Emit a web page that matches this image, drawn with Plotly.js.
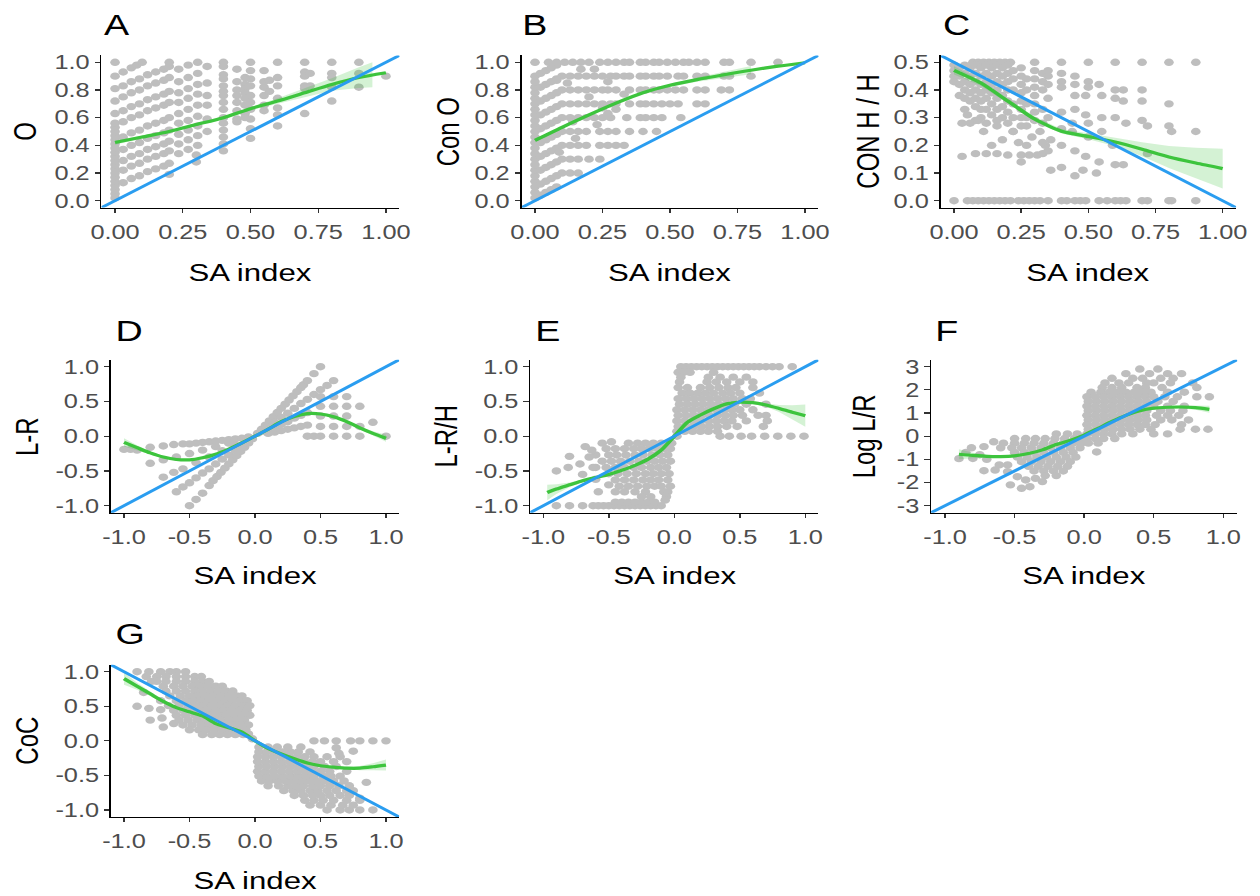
<!DOCTYPE html>
<html>
<head>
<meta charset="utf-8">
<script src="https://cdn.plot.ly/plotly-3.0.1.min.js"></script>
<style>
html,body{margin:0;padding:0;background:#ffffff;overflow:hidden;}
#wrap{width:1260px;height:896px;overflow:hidden;position:relative;}
#plot{width:970px;height:896px;transform-origin:0 0;}
</style>
</head>
<body>
<div id="wrap"><div id="plot"></div></div>
<script>
// ---------------- text ----------------
const panelLetters = ['A','B','C','D','E','F','G'];
const yTitles = ['O','Con O','CON H / H','L-R','L-R/H','Log L/R','CoC'];
const xTitle = 'SA index';

// ---------------- ticks ----------------
const tickVals01 = [0,0.25,0.5,0.75,1];
const tickText01 = ['0.00','0.25','0.50','0.75','1.00'];
const tickValsY01 = [0,0.2,0.4,0.6,0.8,1];
const tickTextY01 = ['0.0','0.2','0.4','0.6','0.8','1.0'];
const tickValsC = [0,0.1,0.2,0.3,0.4,0.5];
const tickTextC = ['0.0','0.1','0.2','0.3','0.4','0.5'];
const tickValsPM = [-1,-0.5,0,0.5,1];
const tickTextPM = ['-1.0','-0.5','0.0','0.5','1.0'];
const tickValsF = [-3,-2,-1,0,1,2,3];
const tickTextF = ['-3','-2','-1','0','1','2','3'];

// ---------------- reference (blue) lines: y = slope*x + intercept ----------------
const refSlope = [1,1,-0.5,1,1,3,-1];
const refIntercept = [0,0,0.5,0,0,0,0];

// ---------------- smooth fits (green) ----------------
const fitAX = [0,0.1,0.2,0.3,0.4,0.5,0.6,0.7,0.8,0.9,1.0];
const fitAY = [0.42,0.46,0.5,0.55,0.6,0.665,0.72,0.78,0.84,0.89,0.925];
const bandAX = [0,0.1,0.2,0.3,0.4,0.5,0.6,0.7,0.8,0.9,0.95];
const bandALo = [0.405,0.45,0.49,0.54,0.59,0.653,0.70,0.75,0.795,0.815,0.82];
const bandAHi = [0.435,0.47,0.51,0.56,0.61,0.677,0.74,0.81,0.885,0.965,1.0];

const fitBX = [0,0.1,0.2,0.3,0.4,0.5,0.6,0.7,0.8,0.9,1.0];
const fitBY = [0.436,0.53,0.62,0.705,0.78,0.834,0.875,0.91,0.943,0.972,0.997];
const bandBX = [0,0.1,0.2,0.3,0.4,0.5,0.6,0.7,0.8];
const bandBLo = [0.424,0.522,0.612,0.697,0.772,0.824,0.86,0.888,0.913];
const bandBHi = [0.448,0.538,0.628,0.713,0.788,0.844,0.89,0.932,0.973];

const fitCX = [0,0.1,0.2,0.3,0.4,0.5,0.6,0.7,0.8,0.9,1.0];
const fitCY = [0.471,0.425,0.36,0.295,0.251,0.232,0.212,0.186,0.158,0.136,0.116];
const bandCX = [0,0.1,0.2,0.3,0.4,0.5,0.6,0.7,0.8,0.9,1.0];
const bandCLo = [0.456,0.415,0.352,0.287,0.243,0.222,0.197,0.161,0.118,0.081,0.044];
const bandCHi = [0.486,0.435,0.368,0.303,0.259,0.242,0.227,0.211,0.198,0.191,0.188];

const fitDX = [-1,-0.9,-0.8,-0.7,-0.6,-0.5,-0.4,-0.3,-0.2,-0.1,0,0.1,0.2,0.3,0.4,0.5,0.6,0.7,0.8,0.9,1.0];
const fitDY = [-0.09,-0.165,-0.24,-0.3,-0.335,-0.34,-0.31,-0.26,-0.185,-0.095,0,0.1,0.21,0.285,0.325,0.32,0.28,0.21,0.12,0.04,-0.03];
const bandDLo = [-0.15,-0.2,-0.26,-0.315,-0.347,-0.352,-0.322,-0.272,-0.197,-0.107,-0.012,0.088,0.198,0.273,0.313,0.308,0.268,0.195,0.1,0.01,-0.08];
const bandDHi = [-0.03,-0.13,-0.22,-0.285,-0.323,-0.328,-0.298,-0.248,-0.173,-0.083,0.012,0.112,0.222,0.297,0.337,0.332,0.292,0.225,0.14,0.07,0.02];

const fitEX = [-0.97,-0.9,-0.8,-0.7,-0.6,-0.5,-0.4,-0.3,-0.2,-0.1,0,0.1,0.2,0.3,0.4,0.5,0.6,0.7,0.8,0.9,1.0];
const fitEY = [-0.81,-0.76,-0.7,-0.64,-0.595,-0.55,-0.49,-0.42,-0.33,-0.2,0,0.2,0.305,0.395,0.465,0.49,0.482,0.45,0.4,0.345,0.295];
const bandELo = [-0.92,-0.83,-0.735,-0.66,-0.61,-0.565,-0.505,-0.435,-0.345,-0.215,-0.015,0.185,0.29,0.38,0.45,0.475,0.464,0.425,0.35,0.245,0.135];
const bandEHi = [-0.7,-0.69,-0.665,-0.62,-0.58,-0.535,-0.475,-0.405,-0.315,-0.185,0.015,0.215,0.32,0.41,0.48,0.505,0.5,0.475,0.45,0.445,0.455];

const fitFX = [-0.9,-0.8,-0.7,-0.6,-0.5,-0.4,-0.3,-0.2,-0.1,0,0.1,0.2,0.3,0.4,0.5,0.6,0.7,0.8,0.9];
const fitFY = [-0.78,-0.83,-0.87,-0.88,-0.85,-0.75,-0.59,-0.36,-0.18,0.05,0.34,0.64,0.9,1.1,1.21,1.25,1.26,1.23,1.16];
const bandFLo = [-1.0,-0.95,-0.94,-0.93,-0.9,-0.8,-0.64,-0.41,-0.23,0.0,0.29,0.59,0.85,1.05,1.16,1.2,1.2,1.14,1.01];
const bandFHi = [-0.56,-0.71,-0.8,-0.83,-0.8,-0.7,-0.54,-0.31,-0.13,0.1,0.39,0.69,0.95,1.15,1.26,1.3,1.32,1.32,1.31];

const fitGX = [-1,-0.9,-0.8,-0.7,-0.6,-0.5,-0.4,-0.3,-0.2,-0.1,0,0.1,0.2,0.3,0.4,0.5,0.6,0.7,0.8,0.9,1.0];
const fitGY = [0.9,0.79,0.68,0.57,0.48,0.42,0.36,0.25,0.19,0.125,0,-0.11,-0.19,-0.26,-0.32,-0.36,-0.38,-0.395,-0.395,-0.375,-0.35];
const bandGLo = [0.81,0.74,0.65,0.55,0.465,0.405,0.345,0.235,0.175,0.11,-0.015,-0.125,-0.205,-0.275,-0.335,-0.375,-0.395,-0.415,-0.425,-0.425,-0.43];
const bandGHi = [0.99,0.84,0.71,0.59,0.495,0.435,0.375,0.265,0.205,0.14,0.015,-0.095,-0.175,-0.245,-0.305,-0.345,-0.365,-0.375,-0.365,-0.325,-0.27];

// ---------------- points (groups of [x values],[y values]; a single value is shared) ----------------
const aStreakX = [0.03,0.06,0.09,0.12,0.15,0.18,0.2];
const aStreak2X = [0.235,0.27,0.305];
const ptsA = [
  [[0],[0.02,0.05,0.08,0.11,0.14,0.17,0.2,0.23,0.26,0.29,0.32,0.35,0.38,0.41,0.44,0.47,0.5,0.53,0.56,0.63,0.72,0.81,0.9,1.0]],
  [[0.03,0.06,0.08,0.1],[0.93,0.96,0.98,1.0]],
  [aStreakX,[0.83,0.86,0.88,0.91,0.93,0.95,0.97]],
  [aStreakX,[0.75,0.78,0.8,0.83,0.85,0.87,0.89]],
  [aStreakX,[0.65,0.68,0.7,0.73,0.75,0.77,0.79]],
  [aStreakX,[0.57,0.6,0.62,0.65,0.67,0.69,0.71]],
  [aStreakX,[0.46,0.49,0.51,0.54,0.56,0.58,0.6]],
  [aStreakX,[0.37,0.4,0.42,0.45,0.47,0.49,0.51]],
  [aStreakX,[0.29,0.32,0.34,0.37,0.39,0.41,0.43]],
  [aStreakX,[0.22,0.25,0.27,0.3,0.32,0.34,0.36]],
  [aStreakX,[0.13,0.16,0.18,0.21,0.23,0.25,0.27]],
  [[0.2],[1.0,0.19]],
  [aStreak2X,[0.95,0.98,1.0]],
  [aStreak2X,[0.86,0.89,0.92]],
  [aStreak2X,[0.78,0.81,0.84]],
  [aStreak2X,[0.71,0.74,0.77]],
  [aStreak2X,[0.63,0.66,0.69]],
  [aStreak2X,[0.56,0.58,0.61]],
  [aStreak2X,[0.48,0.51,0.54]],
  [aStreak2X,[0.41,0.44,0.47]],
  [aStreak2X,[0.34,0.37,0.4]],
  [[0.3],[0.28,0.33]],
  [[0.34],[0.97,0.85,0.76,0.69,0.59,0.5]],
  [[0.4],[1.0,0.97,0.91,0.88,0.83,0.79,0.76,0.71,0.66,0.6,0.56,0.51,0.46,0.41,0.36]],
  [[0.45],[0.95,0.86,0.8,0.76,0.71,0.65,0.59,0.57]],
  [[0.48],[0.89,0.84,0.81,0.78,0.74,0.69,0.63,0.6]],
  [[0.5],[1.0,0.94,0.88,0.83,0.76,0.71,0.66,0.59,0.52,0.45]],
  [[0.55],[0.94,0.86,0.82,0.76,0.69,0.65]],
  [[0.57],[0.87,0.79]],
  [[0.6],[1.0,0.89,0.83,0.74,0.67,0.62,0.54]],
  [[0.7],[1.0,0.93,0.9,0.83,0.81,0.63]],
  [[0.72],[0.92,0.83]],
  [[0.8],[1.0,0.92,0.89,0.82,0.72]],
  [[0.9],[1.0,0.92,0.82]],
  [[1.0],[0.9]]
];

const bDiagX = [0.02,0.04,0.06,0.08];
const ptsB = [
  [[0],[0.02,0.06,0.1,0.14,0.18,0.22,0.26,0.3,0.34,0.38,0.42,0.46,0.5,0.54,0.58,0.62,0.66,0.7,0.74,0.78,0.82,0.86,0.9,1.0]],
  [bDiagX,[0.92,0.94,0.96,0.98]],
  [bDiagX,[0.82,0.84,0.86,0.88]],
  [bDiagX,[0.72,0.74,0.76,0.78]],
  [bDiagX,[0.62,0.64,0.66,0.68]],
  [bDiagX,[0.52,0.54,0.56,0.58]],
  [bDiagX,[0.42,0.44,0.46,0.48]],
  [bDiagX,[0.32,0.34,0.36,0.38]],
  [bDiagX,[0.22,0.24,0.26,0.28]],
  [bDiagX,[0.12,0.14,0.16,0.18]],
  [bDiagX,[0.04,0.06,0.08,0.1]],
  [[0.05,0.08,0.11,0.14,0.17,0.2,0.24,0.27,0.3,0.33,0.35,0.39,0.41,0.44,0.46,0.49,0.52,0.55,0.57,0.6,0.63,0.7,0.72,0.8,0.9],[1.0]],
  [[0.1,0.13,0.16,0.19,0.22,0.25,0.28,0.3,0.33,0.35,0.39,0.41,0.44,0.46,0.49,0.53,0.55,0.6,0.63,0.7,0.72,0.8],[0.9]],
  [[0.1,0.13,0.16,0.19,0.22,0.25,0.27,0.3,0.35,0.39,0.41,0.44,0.46,0.49,0.52,0.55,0.6,0.63,0.69,0.72],[0.8]],
  [[0.1,0.13,0.16,0.19,0.22,0.25,0.28,0.3,0.35,0.39,0.41,0.44,0.47,0.5,0.53,0.6,0.63],[0.7]],
  [[0.1,0.13,0.16,0.19,0.22,0.25,0.28,0.34,0.39,0.41,0.44,0.47,0.54],[0.6]],
  [[0.1,0.13,0.16,0.19,0.24,0.27,0.3,0.35,0.4,0.45],[0.5]],
  [[0.1,0.13,0.16,0.19,0.24,0.27,0.3,0.33],[0.4]],
  [[0.1,0.13,0.16,0.2,0.24],[0.3]],
  [[0.1,0.13,0.16],[0.2]],
  [[0.22,0.27,0.33,0.2,0.25,0.14,0.08,0.12,0.17,0.27,0.3,0.23,0.15,0.09],
   [0.95,0.86,0.77,0.75,0.67,0.57,0.87,0.85,0.95,0.63,0.66,0.55,0.45,0.35]]
];

const ptsC = [
  [[0,0.05,0.07,0.09,0.11,0.13,0.15,0.17,0.19,0.21,0.24,0.26,0.28,0.3,0.32,0.35,0.4,0.42,0.45,0.47,0.49,0.54,0.57,0.6,0.62,0.64,0.7,0.72,0.8,0.81,0.9],[0]],
  [[0.07,0.09,0.11,0.13,0.15,0.17,0.19,0.21,0.3,0.4,0.5,0.6,0.7,0.8,0.9],[0.5]],
  [[0],[0.49,0.47,0.45,0.43]],
  [[0.02],[0.48,0.45,0.42,0.38]],
  [[0.04],[0.49,0.46,0.43,0.4,0.37,0.33]],
  [[0.06],[0.48,0.45,0.42,0.39,0.36]],
  [[0.08],[0.49,0.46,0.43,0.4,0.37,0.34,0.29]],
  [[0.1],[0.48,0.45,0.42,0.39,0.36,0.33,0.3]],
  [[0.12],[0.49,0.46,0.43,0.4,0.37,0.33,0.28]],
  [[0.14],[0.48,0.45,0.42,0.39,0.35,0.31]],
  [[0.16],[0.49,0.46,0.43,0.4,0.37,0.33,0.29]],
  [[0.18],[0.48,0.45,0.42,0.38,0.34,0.3]],
  [[0.2],[0.49,0.46,0.43,0.4,0.36,0.32,0.28]],
  [[0.22],[0.47,0.44,0.4,0.35,0.3,0.25]],
  [[0.25],[0.48,0.45,0.42,0.39,0.36,0.33,0.3,0.27]],
  [[0.27],[0.44,0.4,0.35,0.3,0.27]],
  [[0.3],[0.47,0.44,0.41,0.38,0.35,0.32,0.29]],
  [[0.03,0.08,0.12,0.16,0.2,0.25,0.28,0.31,0.33,0.03,0.06,0.09,0.14,0.18,0.22,0.25,0.27,0.24,0.29,0.32,0.34,0.16,0.11,0.05],
   [0.16,0.17,0.17,0.17,0.165,0.165,0.165,0.165,0.17,0.28,0.28,0.29,0.2,0.22,0.25,0.14,0.2,0.21,0.23,0.25,0.2,0.27,0.25,0.31]],
  [[0.33],[0.46,0.43,0.4,0.33,0.28,0.21]],
  [[0.35],[0.47,0.45,0.42,0.37,0.3,0.18]],
  [[0.36],[0.22,0.11]],
  [[0.4],[0.46,0.43,0.41,0.32,0.26,0.2,0.12]],
  [[0.45],[0.45,0.42,0.38,0.33,0.18,0.09]],
  [[0.44],[0.28,0.25]],
  [[0.5],[0.43,0.41,0.28,0.23]],
  [[0.49],[0.38,0.31,0.16]],
  [[0.48],[0.11]],
  [[0.55],[0.38,0.3,0.25]],
  [[0.54],[0.42,0.14]],
  [[0.53],[0.1]],
  [[0.6],[0.4,0.37,0.3,0.13]],
  [[0.59],[0.2]],
  [[0.63],[0.4,0.36,0.13]],
  [[0.64],[0.28]],
  [[0.7],[0.4,0.36,0.29]],
  [[0.72],[0.27,0.17]],
  [[0.8],[0.35,0.27]],
  [[0.81],[0.25]],
  [[0.9],[0.25]]
];

const ptsD = [
  [[-1.0,-0.95,-0.9,-0.8,-0.7,-0.62,-0.55,-0.5,-0.45,-0.4,-0.35,-0.3,-0.25,-0.2,-0.15,-0.1,-0.05],
   [-0.19,-0.19,-0.2,-0.16,-0.14,-0.12,-0.11,-0.11,-0.1,-0.09,-0.08,-0.07,-0.06,-0.05,-0.04,-0.03,-0.01]],
  [[-0.8,-0.7,-0.6,-0.5,-0.4,-0.3,-0.2],[-0.39,-0.34,-0.3,-0.25,-0.2,-0.15,-0.1]],
  [[-0.7,-0.62,-0.55,-0.45,-0.35,-0.25,-0.15],[-0.59,-0.52,-0.47,-0.38,-0.3,-0.21,-0.13]],
  [[-0.6,-0.55,-0.5,-0.45,-0.4,-0.35,-0.3,-0.25,-0.2,-0.15,-0.1],[-0.8,-0.73,-0.67,-0.6,-0.53,-0.47,-0.4,-0.33,-0.27,-0.2,-0.13]],
  [[-0.5,-0.45,-0.4,-0.35,-0.32,-0.29,-0.26,-0.23,-0.2,-0.17,-0.14,-0.11,-0.08,-0.05,-0.02],
   [-1.0,-0.91,-0.82,-0.71,-0.64,-0.58,-0.52,-0.46,-0.4,-0.34,-0.28,-0.22,-0.16,-0.1,-0.04]],
  [[0.02,0.05,0.08,0.11,0.14,0.17,0.2,0.23,0.26,0.29,0.32,0.35,0.37,0.4,0.45,0.5],
   [0.04,0.1,0.16,0.22,0.28,0.34,0.4,0.46,0.52,0.58,0.64,0.7,0.74,0.8,0.9,1.0]],
  [[0.05,0.1,0.15,0.2,0.25,0.3,0.35,0.4,0.45,0.5,0.55,0.6],[0.07,0.13,0.2,0.27,0.33,0.4,0.47,0.53,0.6,0.67,0.73,0.8]],
  [[0.1,0.15,0.2,0.25,0.3,0.35,0.4],[0.09,0.13,0.17,0.21,0.26,0.3,0.34]],
  [[0.1,0.15,0.2,0.25,0.3,0.35,0.4],[0.04,0.06,0.08,0.1,0.12,0.14,0.16]],
  [[0.4,0.45,0.5,0.6,0.7,0.8,1.0],[0]],
  [[0.5,0.6,0.7,0.8],[0.14]],
  [[0.9],[0.2]],
  [[0.5,0.6,0.7],[0.29]],
  [[0.5,0.6,0.7,0.8],[0.43]],
  [[0.5,0.6,0.7],[0.57]]
];

const ptsE = [
  [[-0.9,-0.8,-0.7,-0.62,-0.58,-0.54,-0.5,-0.46,-0.42,-0.38,-0.34,-0.3,-0.26,-0.22,-0.18,-0.14,-0.1],[-1.0]],
  [[-0.45,-0.4,-0.35,-0.3,-0.25,-0.2,-0.15],[-0.95]],
  [[-0.35,-0.28,-0.22,-0.16,-0.1,-0.05,-0.02],[-0.1]],
  [[-0.52,-0.45,-0.38,-0.31,-0.25,-0.19,-0.13,-0.07,-0.03],[-0.18]],
  [[-0.6,-0.5,-0.44,-0.37,-0.3,-0.24,-0.17,-0.11,-0.05],[-0.27]],
  [[-0.55,-0.48,-0.41,-0.34,-0.27,-0.21,-0.15,-0.09,-0.03],[-0.36]],
  [[-0.6,-0.52,-0.45,-0.38,-0.31,-0.25,-0.18,-0.12,-0.06],[-0.45]],
  [[-0.5,-0.43,-0.36,-0.29,-0.22,-0.16,-0.1,-0.04],[-0.54]],
  [[-0.45,-0.38,-0.31,-0.24,-0.18,-0.12,-0.05],[-0.63]],
  [[-0.42,-0.35,-0.28,-0.21,-0.15,-0.1,-0.03],[-0.72]],
  [[-0.45,-0.38,-0.3,-0.22,-0.08,-0.05],[-0.8]],
  [[-0.25,-0.18,-0.06],[-0.87]],
  [[-0.9,-0.8,-0.81,-0.72,-0.7,-0.65,-0.63,-0.68,-0.6,-0.58,-0.55,-0.5,-0.48,-0.62,-0.07],
   [-0.5,-0.29,-0.45,-0.4,-0.55,-0.3,-0.2,-0.15,-0.62,-0.8,-0.1,-0.7,-0.08,-0.45,-0.92]],
  [[0.05,0.09,0.13,0.17,0.21,0.25,0.29,0.33,0.37,0.41,0.45,0.49,0.53,0.57,0.61,0.65,0.7,0.75,0.8,0.9],[1.0]],
  [[0.03,0.07,0.12,0.3],[0.92]],
  [[0.05,0.26,0.35,0.45,0.55],[0.85]],
  [[0.04,0.25,0.32,0.4,0.5,0.6],[0.78]],
  [[0.03,0.1,0.2,0.27,0.34,0.41,0.47,0.6],[0.7]],
  [[0.06,0.12,0.18,0.24,0.3,0.37,0.43,0.5,0.65],[0.62]],
  [[0.03,0.09,0.15,0.21,0.27,0.33,0.39,0.45,0.52,0.58],[0.54]],
  [[0.04,0.1,0.16,0.22,0.28,0.34,0.4,0.46,0.55,0.7],[0.46]],
  [[0.02,0.08,0.14,0.2,0.26,0.32,0.38,0.44,0.5,0.6],[0.38]],
  [[0.03,0.09,0.15,0.21,0.27,0.33,0.39,0.45,0.52,0.64,0.7],[0.3]],
  [[0.02,0.08,0.14,0.2,0.26,0.32,0.38,0.44,0.55,0.71],[0.22]],
  [[0.03,0.09,0.15,0.21,0.27,0.33,0.4,0.48,0.68],[0.14]],
  [[0.02,0.08,0.14,0.2,0.26,0.33],[0.07]],
  [[0.02,0.35,0.42,0.51,0.59,0.69,0.79,0.89,0.99],[0]]
];

const ptsF = [
  [[-0.2,-0.12,-0.05],[0.1]],
  [[-0.5,-0.42,-0.35,-0.28,-0.21,-0.14,-0.07,-0.02],[-0.1]],
  [[-0.58,-0.5,-0.43,-0.36,-0.29,-0.22,-0.15,-0.08,-0.02],[-0.3]],
  [[-0.52,-0.45,-0.38,-0.31,-0.24,-0.17,-0.1,-0.03],[-0.5]],
  [[-0.5,-0.43,-0.36,-0.29,-0.22,-0.15,-0.08],[-0.7]],
  [[-0.48,-0.41,-0.34,-0.27,-0.2,-0.13,-0.06],[-0.9]],
  [[-0.45,-0.38,-0.31,-0.24,-0.17,-0.1],[-1.1]],
  [[-0.4,-0.33,-0.26,-0.19,-0.12],[-1.3]],
  [[-0.36,-0.29,-0.22,-0.15],[-1.5]],
  [[-0.28,-0.2],[-1.7]],
  [[-0.9,-0.81,-0.8,-0.72,-0.72,-0.7,-0.65,-0.64,-0.61,-0.6,-0.55,-0.55,-0.53,-0.48,-0.45,-0.42,-0.39,-0.35,-0.3,-0.75,-0.85,0.09],
   [-0.97,-0.5,-0.96,-0.45,-1.49,-1.0,-0.24,-1.46,-1.24,-0.5,-1.53,-1.24,-2.1,-1.75,-2.25,-1.89,-2.18,-1.82,-1.96,-0.8,-0.7,-0.68]],
  [[0.4,0.53],[2.9]],
  [[0.3,0.47,0.6,0.7],[2.7]],
  [[0.2,0.35,0.42,0.55,0.64],[2.5]],
  [[0.15,0.25,0.32,0.45,0.5,0.62,0.78],[2.3]],
  [[0.13,0.2,0.27,0.38,0.44,0.56,0.81],[2.1]],
  [[0.05,0.12,0.18,0.24,0.3,0.36,0.42,0.48,0.6,0.72],[1.9]],
  [[0.02,0.08,0.14,0.2,0.26,0.32,0.38,0.44,0.5,0.58,0.67,0.81,0.9],[1.7]],
  [[0.03,0.09,0.15,0.21,0.27,0.33,0.39,0.45,0.53,0.64],[1.5]],
  [[0.02,0.08,0.14,0.2,0.26,0.32,0.38,0.44,0.5,0.6,0.72],[1.3]],
  [[0.03,0.09,0.15,0.21,0.27,0.33,0.39,0.45,0.55,0.62,0.71],[1.1]],
  [[0.02,0.08,0.14,0.2,0.26,0.32,0.38,0.44,0.52,0.6,0.68],[0.9]],
  [[0.03,0.09,0.15,0.21,0.27,0.33,0.39,0.45,0.55,0.63,0.75],[0.7]],
  [[0.02,0.08,0.14,0.2,0.26,0.32,0.38,0.44,0.51,0.7],[0.5]],
  [[0.03,0.09,0.15,0.21,0.27,0.33,0.4,0.48,0.69,0.8,0.89],[0.3]],
  [[0.02,0.08,0.14,0.2,0.27,0.35,0.5,0.6],[0.1]],
  [[0.02,0.08,0.14,0.22],[-0.1]],
  [[0.03,0.1],[-0.3]]
];

const ptsG = [
  [[-0.9,-0.81,-0.72,-0.65,-0.6,-0.53],[1.0]],
  [[-0.83,-0.75,-0.68,-0.6,-0.53,-0.46,-0.41],[0.93]],
  [[-0.75,-0.68,-0.6,-0.53,-0.46,-0.4,-0.35],[0.86]],
  [[-0.7,-0.62,-0.55,-0.48,-0.42,-0.36,-0.3,-0.25],[0.79]],
  [[-0.68,-0.6,-0.53,-0.46,-0.4,-0.34,-0.28,-0.22,-0.17],[0.72]],
  [[-0.65,-0.57,-0.5,-0.44,-0.38,-0.32,-0.26,-0.2,-0.14,-0.1],[0.65]],
  [[-0.72,-0.6,-0.53,-0.47,-0.41,-0.35,-0.29,-0.23,-0.17,-0.11,-0.06],[0.58]],
  [[-0.66,-0.58,-0.51,-0.45,-0.39,-0.33,-0.27,-0.21,-0.15,-0.09,-0.04],[0.51]],
  [[-0.62,-0.55,-0.48,-0.42,-0.36,-0.3,-0.24,-0.18,-0.12,-0.06],[0.44]],
  [[-0.6,-0.53,-0.46,-0.4,-0.34,-0.28,-0.22,-0.16,-0.1,-0.04],[0.37]],
  [[-0.58,-0.51,-0.44,-0.38,-0.32,-0.26,-0.2,-0.14,-0.08],[0.3]],
  [[-0.55,-0.48,-0.41,-0.35,-0.29,-0.23,-0.17,-0.11,-0.05],[0.23]],
  [[-0.5,-0.43,-0.37,-0.31,-0.25,-0.19,-0.13,-0.07],[0.16]],
  [[-0.4,-0.33,-0.27,-0.21,-0.15,-0.09],[0.09]],
  [[-0.9,-0.81,-0.8,-0.72,-0.71,-0.7,-0.62,-0.79,-0.85,-0.05,-0.02],[0.5,0.47,0.3,0.45,0.33,0.2,0.25,0.86,0.7,0.1,0.03]],
  [[0.45,0.53,0.62,0.73,0.8,0.9,1.0],[0]],
  [[0.55,0.65,0.72,0.8,0.9],[-1.0]],
  [[0.42,0.5,0.58,0.67,0.75],[-0.93]],
  [[0.38,0.45,0.52,0.6,0.7,0.8],[-0.86]],
  [[0.3,0.37,0.44,0.5,0.57,0.65,0.72],[-0.79]],
  [[0.22,0.29,0.35,0.42,0.48,0.55,0.62,0.7,0.75],[-0.72]],
  [[0.1,0.18,0.25,0.31,0.37,0.44,0.5,0.57,0.64,0.72],[-0.65]],
  [[0.05,0.11,0.17,0.23,0.29,0.35,0.41,0.47,0.53,0.6,0.68],[-0.58]],
  [[0.03,0.09,0.15,0.21,0.27,0.33,0.39,0.45,0.52,0.58,0.65],[-0.51]],
  [[0.02,0.08,0.14,0.2,0.26,0.32,0.38,0.44,0.5,0.57,0.7],[-0.44]],
  [[0.03,0.09,0.15,0.21,0.27,0.33,0.39,0.45,0.53,0.62],[-0.37]],
  [[0.02,0.08,0.14,0.2,0.26,0.32,0.38,0.44,0.5,0.6,0.7],[-0.3]],
  [[0.02,0.08,0.14,0.2,0.26,0.32,0.38,0.45,0.55,0.65],[-0.23]],
  [[0.03,0.09,0.15,0.21,0.27,0.33,0.42],[-0.16]],
  [[0.03,0.1,0.17,0.25,0.35],[-0.09]],
  [[0.64,0.8,0.85,0.62,0.75],[-0.18,-0.83,-0.6,-0.1,-0.15]]
];

// ---------------- layout geometry (pixels of the 1260x896 picture) ----------------
const REFW = 1260, REFH = 896, PLOTW = 970;
const geom = [
  {l:101.5,r:399.5,t:55.4,b:207.6,xr:[-0.05,1.05],yr:[-0.05,1.05],xt:[tickVals01,tickText01],yt:[tickValsY01,tickTextY01],let:[101,25.5],ytx:25,xty:272},
  {l:521.5,r:818.5,t:55.4,b:207.6,xr:[-0.05,1.05],yr:[-0.05,1.05],xt:[tickVals01,tickText01],yt:[tickValsY01,tickTextY01],let:[520,25.5],ytx:448,xty:272},
  {l:940.6,r:1236.1,t:55.4,b:207.6,xr:[-0.05,1.05],yr:[-0.025,0.525],xt:[tickVals01,tickText01],yt:[tickValsC,tickTextC],let:[940,25.5],ytx:868,xty:272},
  {l:110.9,r:399.1,t:359.75,b:512.65,xr:[-1.1,1.1],yr:[-1.1,1.1],xt:[tickValsPM,tickTextPM],yt:[tickValsPM,tickTextPM],let:[113,330.5],ytx:27,xty:575},
  {l:530.2,r:818.4,t:359.75,b:512.65,xr:[-1.1,1.1],yr:[-1.1,1.1],xt:[tickValsPM,tickTextPM],yt:[tickValsPM,tickTextPM],let:[532,330.5],ytx:446,xty:575},
  {l:931.1,r:1237.2,t:359.75,b:512.65,xr:[-1.1,1.1],yr:[-3.3,3.3],xt:[tickValsPM,tickTextPM],yt:[tickValsF,tickTextF],let:[933,330.5],ytx:864,xty:575},
  {l:110.9,r:399.1,t:664.8,b:816.9,xr:[-1.1,1.1],yr:[-1.1,1.1],xt:[tickValsPM,tickTextPM],yt:[tickValsPM,tickTextPM],let:[113,634],ytx:27,xty:880.5}
];

const pts = [ptsA,ptsB,ptsC,ptsD,ptsE,ptsF,ptsG];
const fits = [[fitAX,fitAY],[fitBX,fitBY],[fitCX,fitCY],[fitDX,fitDY],[fitEX,fitEY],[fitFX,fitFY],[fitGX,fitGY]];
const bands = [[bandAX,bandALo,bandAHi],[bandBX,bandBLo,bandBHi],[bandCX,bandCLo,bandCHi],[fitDX,bandDLo,bandDHi],[fitEX,bandELo,bandEHi],[fitFX,bandFLo,bandFHi],[fitGX,bandGLo,bandGHi]];

const FONT = 'Liberation Sans, Arial, Helvetica, sans-serif';
const POINT_COLOR = '#BEBEBE';
const FIT_COLOR = '#3DC43D';
const BAND_COLOR = 'rgba(61,196,61,0.22)';
const REF_COLOR = '#2A9DF0';

function expand(groups){
  const xs = [], ys = [];
  groups.forEach(function(g){
    const gx = g[0], gy = g[1];
    const n = Math.max(gx.length, gy.length);
    for (let i = 0; i < n; i++){
      xs.push(gx.length === 1 ? gx[0] : gx[i]);
      ys.push(gy.length === 1 ? gy[0] : gy[i]);
    }
  });
  return [xs, ys];
}

const traces = [];
const layout = {
  width: PLOTW, height: REFH,
  margin: {l:0,r:0,t:0,b:0,pad:0},
  paper_bgcolor: '#ffffff', plot_bgcolor: '#ffffff',
  showlegend: false,
  font: {family: FONT, color: '#000'},
  annotations: []
};

geom.forEach(function(g, i){
  const s = i === 0 ? '' : String(i + 1);
  const xa = 'x' + s, ya = 'y' + s;
  const p = expand(pts[i]);
  traces.push({type:'scatter', mode:'markers', x:p[0], y:p[1], xaxis:xa, yaxis:ya,
    marker:{color:POINT_COLOR, size:7.4, line:{width:0}}, hoverinfo:'skip'});
  const b = bands[i];
  traces.push({type:'scatter', mode:'lines', x:b[0].concat(b[0].slice().reverse()),
    y:b[1].concat(b[2].slice().reverse()), xaxis:xa, yaxis:ya,
    fill:'toself', fillcolor:BAND_COLOR, line:{width:0, color:BAND_COLOR}, hoverinfo:'skip'});
  traces.push({type:'scatter', mode:'lines', x:fits[i][0], y:fits[i][1], xaxis:xa, yaxis:ya,
    line:{color:FIT_COLOR, width:3.2, shape:'spline', smoothing:0.7}, hoverinfo:'skip'});
  const rx = g.xr.slice();
  traces.push({type:'scatter', mode:'lines', x:rx, y:rx.map(function(v){return refSlope[i]*v + refIntercept[i];}),
    xaxis:xa, yaxis:ya, line:{color:REF_COLOR, width:2.8}, hoverinfo:'skip'});

  const axCommon = {
    showline:true, linecolor:'#000', linewidth:1.2, mirror:false,
    ticks:'outside', ticklen:4, tickwidth:1.1, tickcolor:'#333',
    tickfont:{family:FONT, size:19.5, color:'#4D4D4D'},
    showgrid:false, zeroline:false, fixedrange:true, tickmode:'array'
  };
  layout['xaxis' + s] = Object.assign({}, axCommon, {
    domain:[g.l/REFW, g.r/REFW], range:g.xr, anchor:ya,
    tickvals:g.xt[0], ticktext:g.xt[1], ticklabelstandoff:3
  });
  layout['yaxis' + s] = Object.assign({}, axCommon, {
    domain:[1 - g.b/REFH, 1 - g.t/REFH], range:g.yr, anchor:xa,
    tickvals:g.yt[0], ticktext:g.yt[1]
  });
  layout.annotations.push({xref:'paper', yref:'paper', x:g.let[0]/REFW, y:1 - g.let[1]/REFH,
    xanchor:'left', yanchor:'middle', showarrow:false, text:panelLetters[i],
    font:{family:FONT, size:29, color:'#000'}});
  layout.annotations.push({xref:'paper', yref:'paper', x:g.ytx/REFW, y:1 - (g.t + g.b)/2/REFH,
    xanchor:'center', yanchor:'middle', showarrow:false, text:yTitles[i], textangle:-90,
    font:{family:FONT, size:24, color:'#000'}});
  layout.annotations.push({xref:'paper', yref:'paper', x:(g.l + g.r)/2/REFW, y:1 - g.xty/REFH,
    xanchor:'center', yanchor:'middle', showarrow:false, text:xTitle,
    font:{family:FONT, size:24, color:'#000'}});
});

const el = document.getElementById('plot');
Plotly.newPlot(el, traces, layout, {displayModeBar:false, staticPlot:true}).then(function(){
  el.style.transform = 'scaleX(' + (REFW/PLOTW) + ')';
});
</script>
</body>
</html>
